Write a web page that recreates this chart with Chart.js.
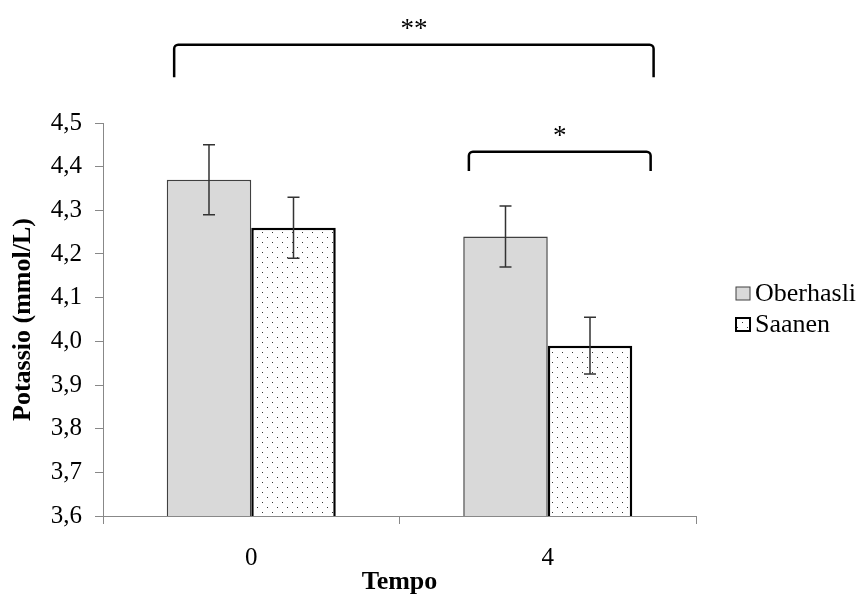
<!DOCTYPE html>
<html>
<head>
<meta charset="utf-8">
<script src="https://cdn.jsdelivr.net/npm/chart.js@4.4.0/dist/chart.umd.min.js"></script>
<style>
    body { margin: 0; background: #fff; }
    #box { width: 861px; height: 599px; }
</style>
</head>
<body>
<div id="box"><canvas id="myChart" width="861" height="599"></canvas></div>
<script>
// ---------------- DATA ----------------
const categories = ["0", "4"];
const oberhasli = [4.37, 4.24];
const oberhasliErr = [0.08, 0.07];
const saanen = [4.26, 3.99];
const saanenErr = [0.07, 0.065];
const yTicks = [3.6, 3.7, 3.8, 3.9, 4.0, 4.1, 4.2, 4.3, 4.4, 4.5];

// significance brackets: [x from, x to] in category units, [leg bottom, bar top] in mmol/L
const brackets = [
    { x: [-0.26, 1.357], y: [4.605, 4.679], text: "**" },
    { x: [0.734, 1.347], y: [4.39, 4.434], text: "*" }
];

const serif = "'Liberation Serif', 'Times New Roman', serif";

// dotted fill for the Saanen bars
function dotPattern() {
    const c = document.createElement("canvas");
    c.width = 10;
    c.height = 10;
    const g = c.getContext("2d");
    g.fillStyle = "#fff";
    g.fillRect(0, 0, 10, 10);
    g.fillStyle = "#333";
    g.fillRect(2, 2, 1, 1);
    g.fillRect(7, 7, 1, 1);
    return g.createPattern(c, "repeat");
}
const dots = dotPattern();

// ---------------- PLUGINS ----------------
const errorBars = {
    id: "errorBars",
    afterDatasetsDraw(chart) {
        const ctx = chart.ctx;
        const y = chart.scales.y;
        ctx.save();
        ctx.strokeStyle = "#333";
        ctx.lineWidth = 1.5;
        chart.data.datasets.forEach((ds, i) => {
            chart.getDatasetMeta(i).data.forEach((bar, j) => {
                const v = ds.data[j], e = ds.err[j];
                const top = y.getPixelForValue(v + e);
                const bot = y.getPixelForValue(v - e);
                ctx.beginPath();
                ctx.moveTo(bar.x, top); ctx.lineTo(bar.x, bot);
                ctx.moveTo(bar.x - 6, top); ctx.lineTo(bar.x + 6, top);
                ctx.moveTo(bar.x - 6, bot); ctx.lineTo(bar.x + 6, bot);
                ctx.stroke();
            });
        });
        ctx.restore();
    }
};

const sigBrackets = {
    id: "sigBrackets",
    afterDraw(chart) {
        const ctx = chart.ctx;
        const xs = chart.scales.x, ys = chart.scales.y;
        ctx.save();
        ctx.strokeStyle = "#000";
        ctx.lineWidth = 2.5;
        ctx.fillStyle = "#000";
        ctx.font = "27px " + serif;
        ctx.textAlign = "center";
        ctx.textBaseline = "middle";
        brackets.forEach(b => {
            const x1 = xs.getPixelForValue(b.x[0]);
            const x2 = xs.getPixelForValue(b.x[1]);
            const yl = ys.getPixelForValue(b.y[0]);
            const yt = ys.getPixelForValue(b.y[1]);
            ctx.beginPath();
            ctx.moveTo(x1, yl);
            ctx.arcTo(x1, yt, x2, yt, 4);
            ctx.arcTo(x2, yt, x2, yl, 4);
            ctx.lineTo(x2, yl);
            ctx.stroke();
            ctx.fillText(b.text, (x1 + x2) / 2, yt - 15);
        });
        ctx.restore();
    }
};

const sideLegend = {
    id: "sideLegend",
    afterDraw(chart) {
        const ctx = chart.ctx;
        const x = chart.chartArea.right + 40;
        let y = 287;
        ctx.save();
        ctx.font = "26px " + serif;
        ctx.textBaseline = "middle";
        chart.data.datasets.forEach(ds => {
            ctx.fillStyle = ds.backgroundColor;
            ctx.fillRect(x, y, 14, 13);
            ctx.strokeStyle = ds.borderColor;
            ctx.lineWidth = ds.label === "Saanen" ? 2 : 1;
            ctx.strokeRect(x, y, 14, 13);
            ctx.fillStyle = "#000";
            ctx.fillText(ds.label, x + 19, y + 7);
            y += 31;
        });
        ctx.restore();
    }
};

// ---------------- CHART ----------------
const ctx = document.getElementById("myChart").getContext("2d");
const chart = new Chart(ctx, {
    type: "bar",
    data: {
        labels: categories,
        datasets: [
            {
                label: "Oberhasli",
                data: oberhasli,
                err: oberhasliErr,
                backgroundColor: "#d9d9d9",
                borderColor: "#404040",
                borderWidth: 1.5
            },
            {
                label: "Saanen",
                data: saanen,
                err: saanenErr,
                backgroundColor: dots,
                borderColor: "#000",
                borderWidth: 2.5,
                borderSkipped: false
            }
        ]
    },
    options: {
        responsive: false,
        devicePixelRatio: 1,
        animation: false,
        layout: { padding: { top: 123, right: 165, left: 0, bottom: 0 } },
        plugins: { legend: { display: false }, tooltip: { enabled: false } },
        datasets: { bar: { categoryPercentage: 0.57, barPercentage: 1 } },
        scales: {
            x: {
                grid: { display: true, drawOnChartArea: false, tickLength: 8, color: "#888" },
                border: { color: "#888", width: 1 },
                ticks: { font: { family: serif, size: 25 }, color: "#000", padding: 19 },
                title: { display: true, text: "Tempo", font: { family: serif, size: 26, weight: "bold" }, color: "#000", padding: { top: 2, bottom: 1 } },
                afterFit(s) { s.height = 83; }
            },
            y: {
                min: yTicks[0],
                max: yTicks[yTicks.length - 1],
                afterBuildTicks(s) { s.ticks = yTicks.map(v => ({ value: v })); },
                grid: { display: true, drawOnChartArea: false, tickLength: 8, color: "#888" },
                border: { color: "#888", width: 1 },
                ticks: {
                    font: { family: serif, size: 25 },
                    color: "#000",
                    padding: 13,
                    callback: v => v.toFixed(1).replace(".", ",")
                },
                title: { display: true, text: "Potassio (mmol/L)", font: { family: serif, size: 26, weight: "bold" }, color: "#000", padding: { top: 8, bottom: 0 } },
                afterFit(s) { s.width = 103; }
            }
        }
    },
    plugins: [errorBars, sigBrackets, sideLegend]
});
</script>
</body>
</html>
